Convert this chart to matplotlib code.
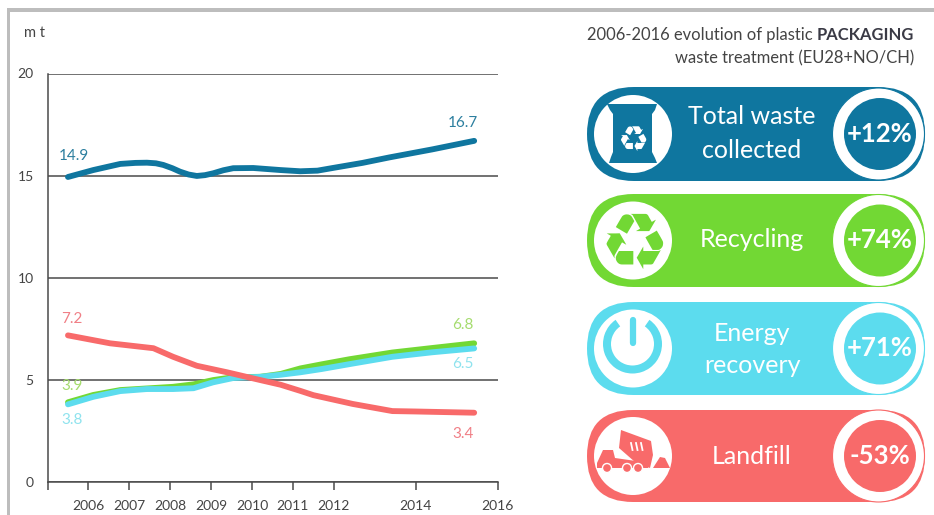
import matplotlib
matplotlib.use("Agg")
import matplotlib.pyplot as plt
from matplotlib.patches import Circle, FancyBboxPatch, Polygon, Wedge, Rectangle

plt.rcParams['font.family'] = ['Lato', 'DejaVu Sans']

# ---- data ----
total_x = [2005.5, 2006.12, 2006.78, 2007.15, 2007.43, 2007.65, 2007.83, 2008.05, 2008.24, 2008.45, 2008.65, 2008.85,
           2009.05, 2009.3, 2009.54, 2010.03, 2010.69, 2011.18, 2011.6, 2012.0, 2012.7, 2013.36, 2014.4, 2015.43]
total_y = [14.93, 15.27, 15.57, 15.62, 15.63, 15.6, 15.52, 15.36, 15.19, 15.05, 14.98, 15.02,
           15.11, 15.26, 15.36, 15.37, 15.27, 15.21, 15.24, 15.38, 15.62, 15.89, 16.28, 16.7]

recycling_x = [2005.5, 2006.12, 2006.78, 2007.43, 2008.07, 2008.57, 2009.05, 2009.54, 2010.2, 2010.7, 2011.18,
               2011.7, 2012.38, 2013.43, 2014.4, 2015.43]
recycling_y = [3.89, 4.25, 4.49, 4.57, 4.65, 4.77, 4.98, 5.12, 5.14, 5.28, 5.55,
               5.75, 6.0, 6.33, 6.55, 6.78]

energy_x = [2005.5, 2006.12, 2006.78, 2007.43, 2008.07, 2008.57, 2009.05, 2009.54, 2010.2, 2010.7, 2011.18,
            2011.7, 2012.38, 2013.43, 2014.4, 2015.43]
energy_y = [3.79, 4.16, 4.44, 4.54, 4.54, 4.58, 4.87, 5.08, 5.14, 5.24, 5.36,
            5.52, 5.76, 6.12, 6.34, 6.53]

landfill_x = [2005.5, 2006.53, 2007.59, 2008.07, 2008.65, 2009.39, 2010.2, 2010.7, 2011.18, 2011.5, 2012.46, 2013.43,
              2014.0, 2015.43]
landfill_y = [7.17, 6.78, 6.54, 6.12, 5.68, 5.36, 4.98, 4.75, 4.45, 4.24, 3.81, 3.46, 3.44, 3.38]

total_labels = ["14.9", "16.7"]
recycling_labels = ["3.9", "6.8"]
energy_labels = ["3.8", "6.5"]
landfill_labels = ["7.2", "3.4"]

y_ticks = [0, 5, 10, 15, 20]
x_ticks = [2005, 2006, 2007, 2008, 2009, 2010, 2011, 2012, 2014, 2016]
x_tick_labels = ["", "2006", "2007", "2008", "2009", "2010", "2011", "2012", "2014", "2016"]

pill_titles = [["Total waste", "collected"], ["Recycling"], ["Energy", "recovery"], ["Landfill"]]
pill_changes = ["+12%", "+74%", "+71%", "-53%"]

BLUE, GREEN, CYAN, RED = "#0F769F", "#72D834", "#5CDCEE", "#F86A6A"
W, H = 934, 515

fig = plt.figure(figsize=(W / 100, H / 100), dpi=100, facecolor="white")

# ---- overlay in pixel coordinates ----
ov = fig.add_axes([0, 0, 1, 1], zorder=0)
ov.set_xlim(0, W); ov.set_ylim(H, 0); ov.axis("off")
ov.add_patch(Rectangle((7, 8), W - 7, 3.5, fc="#BDBDBD", ec="none"))
ov.add_patch(Rectangle((7, 8), 3, H - 8, fc="#BDBDBD", ec="none"))
ov.text(34, 33, "m t", ha="center", va="center", fontsize=10.5, color="#444444")

# title with bold word, right aligned
rend = fig.canvas.get_renderer()
t_b = ov.text(914, 35, "PACKAGING", ha="right", va="center", fontsize=11.9, fontweight="bold", color="#3A3A45")
bb = t_b.get_window_extent(rend)
ov.text(bb.x0 - 4, 35, "2006-2016 evolution of plastic", ha="right", va="center", fontsize=11.9, color="#444444")
ov.text(914, 58, "waste treatment (EU28+NO/CH)", ha="right", va="center", fontsize=11.9, color="#444444")

# ---- pills ----
pills = [(87, 181, BLUE), (194, 287, GREEN), (302, 395, CYAN), (410, 502, RED)]
title_offsets = [(-18, 17), (-1,), (-15, 17), (0,)]
for (top, bottom, col), title, change, offs in zip(pills, pill_titles, pill_changes, title_offsets):
    cy = (top + bottom) / 2
    r = (bottom - top) / 2
    ov.add_patch(FancyBboxPatch((587 + r, top + r), 338 - 2 * r, 0,
                                boxstyle=f"round,pad={r},rounding_size={r}", fc=col, ec="none", zorder=1))
    ov.add_patch(Circle((633, cy), 39, fc="white", ec="none", zorder=2))
    ov.add_patch(Circle((878.5, cy), 46, fc="white", ec=col, lw=0.8, zorder=2))
    ov.add_patch(Circle((880, cy), 36, fc=col, ec="none", zorder=3))
    ov.text(880, cy, change, ha="center", va="center", fontsize=18.5, fontweight="bold", color="white", zorder=4)
    for line, off in zip(title, offs):
        ov.text(752, cy + off, line, ha="center", va="center", fontsize=18, color="white", zorder=4)

# bin icon
ov.add_patch(Polygon([(607, 104), (657, 104), (655, 110), (652, 114), (652, 152), (655, 158), (657, 163),
                      (609, 163), (611, 157), (613, 152), (613, 114), (610, 110)],
                     fc=BLUE, ec="none", zorder=3))
ov.text(633, 141, "\u267B", ha="center", va="center", fontsize=25, color="white", zorder=4, family="DejaVu Sans")
# recycling icon
ov.text(634, 246, "\u267B", ha="center", va="center", fontsize=56, color=GREEN, zorder=4, family="DejaVu Sans")
# power icon
ov.add_patch(Wedge((632.5, 344), 29.5, -55, 235, width=8, fc=CYAN, ec="none", zorder=3))
ov.plot([632.5, 632.5], [320, 343], color=CYAN, lw=4.5, solid_capstyle="round", zorder=4)
# truck icon
ov.add_patch(Polygon([(621, 430), (651, 441), (653, 455), (650, 468), (635, 462), (619, 448)],
                     fc=RED, ec="none", zorder=3))
for sx in (631, 636, 641):
    ov.plot([sx, sx + 1.5], [443, 450], color="white", lw=1.3, zorder=4)
ov.add_patch(Polygon([(597, 463), (603, 450), (613, 450), (615, 458), (650, 463), (648, 468), (597, 468)],
                     fc=RED, ec="none", zorder=3))
for cx in (607, 627, 638):
    ov.add_patch(Circle((cx, 468), 4.5, fc=RED, ec="white", lw=1, zorder=4))
ov.add_patch(Polygon([(653, 468), (660, 457), (665, 458), (670, 468)], fc=RED, ec="none", zorder=3))

# ---- line chart ----
x0, x1, y_top, y_bot = 47.5, 497.5, 73.5, 481.7
ax = fig.add_axes([x0 / W, 1 - y_bot / H, (x1 - x0) / W, (y_bot - y_top) / H], zorder=2)
ax.patch.set_alpha(0)
ax.set_xlim(2005, 2016)
ax.set_ylim(0, 20)
for s in ("top", "right"):
    ax.spines[s].set_visible(False)
for s in ("left", "bottom"):
    ax.spines[s].set_color("#4A4A4A"); ax.spines[s].set_linewidth(1.1)
ax.set_yticks(y_ticks)
ax.set_yticklabels([str(v) for v in y_ticks], fontsize=10, color="#444444")
ax.set_xticks(x_ticks)
ax.set_xticklabels(x_tick_labels, fontsize=10, color="#444444")
ax.tick_params(axis="y", length=0, pad=10)
ax.tick_params(axis="x", length=6, width=1.1, color="#4A4A4A", pad=7)
ax.grid(axis="y", color="#4A4A4A", lw=1.1)
ax.set_axisbelow(True)

series = [
    (total_x, total_y, BLUE, "#2C7F9F", total_labels, (4, 15), (-8, 13)),
    (recycling_x, recycling_y, GREEN, "#A5DC6E", recycling_labels, (3, 11.5), (-8, 13)),
    (energy_x, energy_y, CYAN, "#8FE3EE", energy_labels, (3, -11), (-8, -11)),
    (landfill_x, landfill_y, RED, "#F07F86", landfill_labels, (3, 12), (-8, -15)),
]
for xs, ys, col, tcol, labels, off0, off1 in series:
    ax.plot(xs, ys, color=col, lw=4.2, solid_capstyle="round", solid_joinstyle="round")
for xs, ys, col, tcol, labels, off0, off1 in series:
    ax.annotate(labels[0], (xs[0], ys[0]), xytext=off0, textcoords="offset points",
                ha="center", va="center", fontsize=11, color=tcol)
    ax.annotate(labels[1], (xs[-1], ys[-1]), xytext=off1, textcoords="offset points",
                ha="center", va="center", fontsize=11, color=tcol)

fig.savefig("out.png", dpi=100)
